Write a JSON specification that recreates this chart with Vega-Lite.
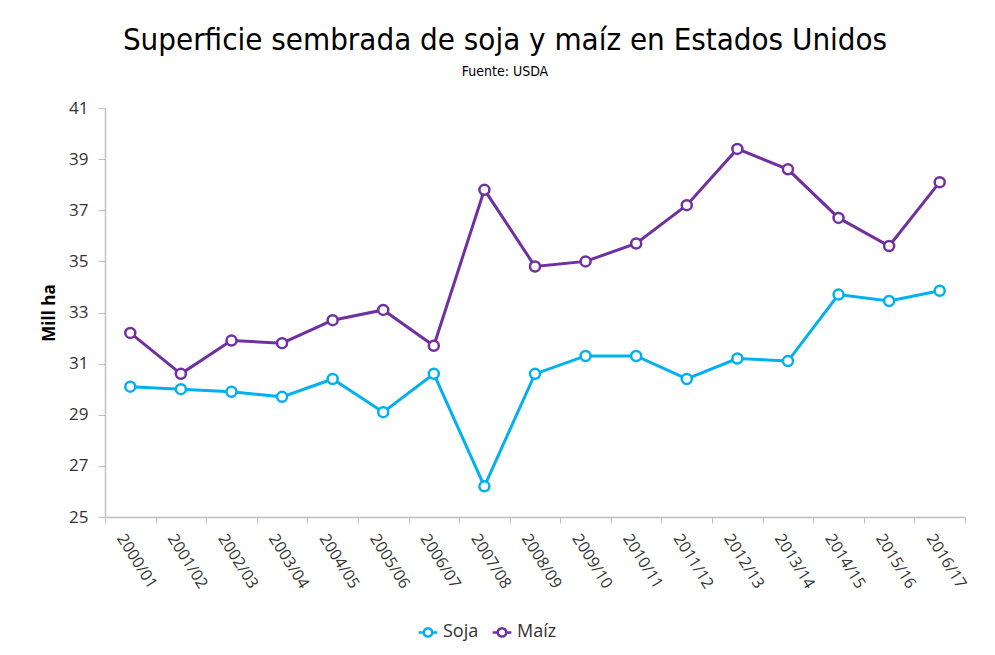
{
  "$schema": "https://vega.github.io/schema/vega-lite/v6.json",
  "width": 860,
  "height": 409,
  "autosize": {"type": "none"},
  "padding": {"left": 105, "top": 108, "right": 30, "bottom": 138},
  "background": "white",
  "title": {
    "text": "Superficie sembrada de soja y maíz en Estados Unidos",
    "subtitle": "Fuente: USDA",
    "font": "DejaVu Sans Condensed",
    "fontSize": 31,
    "fontWeight": "normal",
    "color": "#000000",
    "subtitleFont": "DejaVu Sans Condensed",
    "subtitleFontSize": 14,
    "subtitleFontWeight": "normal",
    "subtitleColor": "#000000",
    "subtitlePadding": 8,
    "anchor": "middle",
    "dx": -30,
    "offset": 19
  },
  "data": {
    "values": [
      {"campana": "2000/01", "cultivo": "Soja", "valor": 30.1},
      {"campana": "2001/02", "cultivo": "Soja", "valor": 30.0},
      {"campana": "2002/03", "cultivo": "Soja", "valor": 29.9},
      {"campana": "2003/04", "cultivo": "Soja", "valor": 29.7},
      {"campana": "2004/05", "cultivo": "Soja", "valor": 30.4},
      {"campana": "2005/06", "cultivo": "Soja", "valor": 29.1},
      {"campana": "2006/07", "cultivo": "Soja", "valor": 30.6},
      {"campana": "2007/08", "cultivo": "Soja", "valor": 26.2},
      {"campana": "2008/09", "cultivo": "Soja", "valor": 30.6},
      {"campana": "2009/10", "cultivo": "Soja", "valor": 31.3},
      {"campana": "2010/11", "cultivo": "Soja", "valor": 31.3},
      {"campana": "2011/12", "cultivo": "Soja", "valor": 30.4},
      {"campana": "2012/13", "cultivo": "Soja", "valor": 31.2},
      {"campana": "2013/14", "cultivo": "Soja", "valor": 31.1},
      {"campana": "2014/15", "cultivo": "Soja", "valor": 33.7},
      {"campana": "2015/16", "cultivo": "Soja", "valor": 33.45},
      {"campana": "2016/17", "cultivo": "Soja", "valor": 33.85},
      {"campana": "2000/01", "cultivo": "Maíz", "valor": 32.2},
      {"campana": "2001/02", "cultivo": "Maíz", "valor": 30.6},
      {"campana": "2002/03", "cultivo": "Maíz", "valor": 31.9},
      {"campana": "2003/04", "cultivo": "Maíz", "valor": 31.8},
      {"campana": "2004/05", "cultivo": "Maíz", "valor": 32.7},
      {"campana": "2005/06", "cultivo": "Maíz", "valor": 33.1},
      {"campana": "2006/07", "cultivo": "Maíz", "valor": 31.7},
      {"campana": "2007/08", "cultivo": "Maíz", "valor": 37.8},
      {"campana": "2008/09", "cultivo": "Maíz", "valor": 34.8},
      {"campana": "2009/10", "cultivo": "Maíz", "valor": 35.0},
      {"campana": "2010/11", "cultivo": "Maíz", "valor": 35.7},
      {"campana": "2011/12", "cultivo": "Maíz", "valor": 37.2},
      {"campana": "2012/13", "cultivo": "Maíz", "valor": 39.4},
      {"campana": "2013/14", "cultivo": "Maíz", "valor": 38.6},
      {"campana": "2014/15", "cultivo": "Maíz", "valor": 36.7},
      {"campana": "2015/16", "cultivo": "Maíz", "valor": 35.6},
      {"campana": "2016/17", "cultivo": "Maíz", "valor": 38.1}
    ]
  },
  "mark": {
    "type": "line",
    "strokeWidth": 3,
    "point": {"filled": false, "fill": "white", "size": 100, "strokeWidth": 2.5, "opacity": 1}
  },
  "encoding": {
    "x": {
      "field": "campana",
      "type": "ordinal",
      "title": null,
      "scale": {"paddingInner": 0, "paddingOuter": 0},
      "axis": {
        "labelAngle": 58,
        "labelAlign": "left",
        "labelBaseline": "middle",
        "labelFont": "Open Sans",
        "labelFontSize": 16,
        "labelColor": "#333333",
        "labelPadding": 12,
        "labelOffset": -10,
        "tickBand": "extent",
        "tickSize": 6,
        "tickColor": "#bfbfbf",
        "domainColor": "#bfbfbf",
        "domainWidth": 1.5
      }
    },
    "y": {
      "field": "valor",
      "type": "quantitative",
      "title": "Mill ha",
      "scale": {"domain": [25, 41], "nice": false, "zero": false},
      "axis": {
        "values": [25, 27, 29, 31, 33, 35, 37, 39, 41],
        "grid": false,
        "labelFont": "Open Sans",
        "labelFontSize": 17,
        "labelColor": "#333333",
        "labelPadding": 10,
        "tickSize": 7,
        "tickColor": "#bfbfbf",
        "domainColor": "#bfbfbf",
        "domainWidth": 1.5,
        "titleFont": "Open Sans",
        "titleFontSize": 17,
        "titleFontWeight": "bold",
        "titleColor": "#000000",
        "titlePadding": 10
      }
    },
    "color": {
      "field": "cultivo",
      "type": "nominal",
      "sort": ["Soja", "Maíz"],
      "scale": {"domain": ["Soja", "Maíz"], "range": ["#00B0F0", "#7030A0"]},
      "legend": {
        "title": null,
        "orient": "none",
        "direction": "horizontal",
        "legendX": 312,
        "legendY": 513,
        "symbolType": "M-1,0L-0.45,0M0.45,0L1,0M-0.45,0A0.45,0.45 0 1,0 0.45,0A0.45,0.45 0 1,0 -0.45,0",
        "symbolSize": 350,
        "symbolStrokeWidth": 2.5,
        "symbolFillColor": "white",
        "labelFont": "Open Sans",
        "labelFontSize": 18,
        "labelColor": "#333333",
        "labelOffset": 4,
        "columnPadding": 8
      }
    }
  },
  "config": {
    "view": {"stroke": null}
  }
}
